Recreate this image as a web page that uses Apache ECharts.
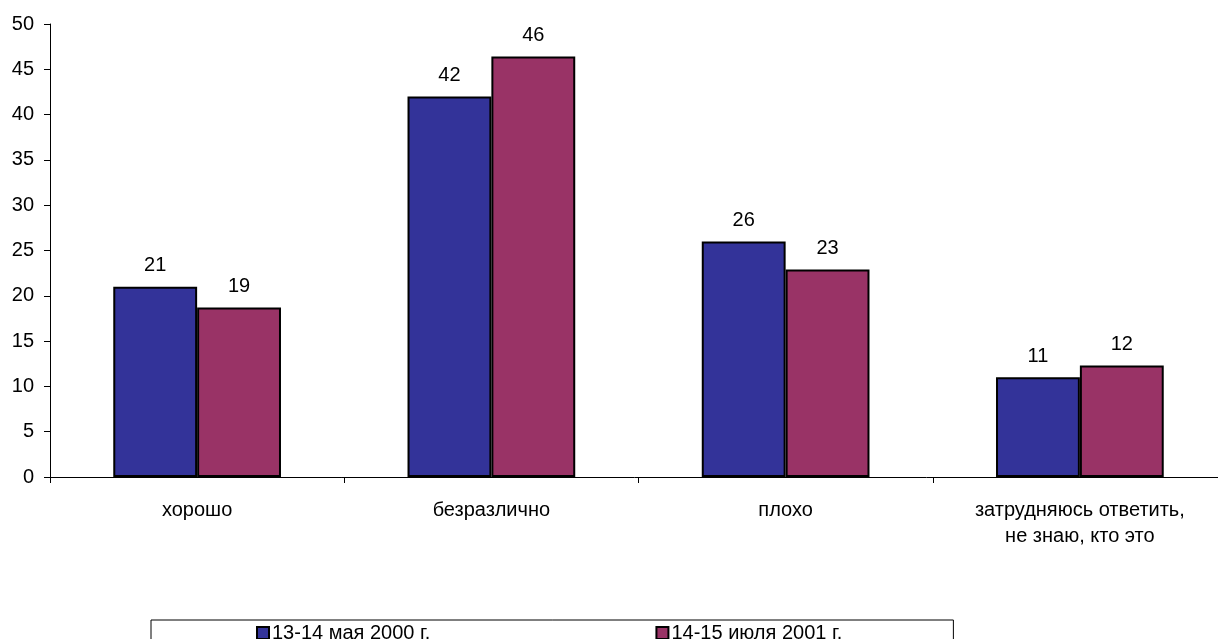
<!DOCTYPE html>
<html><head><meta charset="utf-8">
<script src="https://cdn.jsdelivr.net/npm/echarts@6/dist/echarts.min.js"></script>
<style>html,body{margin:0;padding:0;background:#fff}#c{width:1218px;height:639px}</style>
</head><body><div id="c"></div>
<script>
const categories = ['хорошо', 'безразлично', 'плохо', 'затрудняюсь ответить,\nне знаю, кто это'];
const seriesNames = ['13-14 мая 2000 г.', '14-15 июля 2001 г.'];
const may2000 = [21.0, 42.0, 26.0, 11.0];
const july2001 = [18.7, 46.4, 22.9, 12.3];
const yTicks = [0, 5, 10, 15, 20, 25, 30, 35, 40, 45, 50];

const FONT = '"Liberation Sans", Arial, sans-serif';
const FS = 20;
const chart = echarts.init(document.getElementById('c'), null, {renderer: 'canvas'});
const lbl = {show: true, position: 'top', distance: 11, color: '#000', fontSize: FS, fontFamily: FONT,
  formatter: p => Math.round(p.value)};
chart.setOption({
  animation: false,
  backgroundColor: '#fff',
  textStyle: {fontFamily: FONT},
  grid: {left: 50, top: 24, right: -9, height: 453, containLabel: false, outerBoundsMode: 'none'},
  legend: {
    left: 151, top: 620,
    data: seriesNames,
    itemWidth: 12, itemHeight: 12, itemGap: 225,
    padding: [3, 111, 10, 105],
    borderColor: '#000', borderWidth: 1,
    textStyle: {fontSize: FS, color: '#000', fontFamily: FONT, padding: [0, 0, 0, -2]},
    icon: 'rect'
  },
  xAxis: {
    type: 'category', data: categories,
    axisLine: {lineStyle: {color: '#000', width: 1}},
    axisTick: {show: true, length: 6, lineStyle: {color: '#000'}},
    axisLabel: {color: '#000', fontSize: FS, fontFamily: FONT, margin: 20, lineHeight: 26, interval: 0}
  },
  yAxis: {
    type: 'value', min: 0, max: 50, interval: 5,
    axisLine: {show: true, lineStyle: {color: '#000', width: 1}},
    axisTick: {show: true, length: 6, lineStyle: {color: '#000'}},
    splitLine: {show: false},
    axisLabel: {color: '#000', fontSize: FS, fontFamily: FONT, margin: 16,
      formatter: v => yTicks.includes(v) ? String(v) : ''}
  },
  series: [
    {name: seriesNames[0], type: 'bar', data: may2000, barGap: '0%', barCategoryGap: '43%',
     itemStyle: {color: '#333399', borderColor: '#000', borderWidth: 2}, label: lbl},
    {name: seriesNames[1], type: 'bar', data: july2001,
     itemStyle: {color: '#993366', borderColor: '#000', borderWidth: 2}, label: lbl}
  ]
});
</script></body></html>
